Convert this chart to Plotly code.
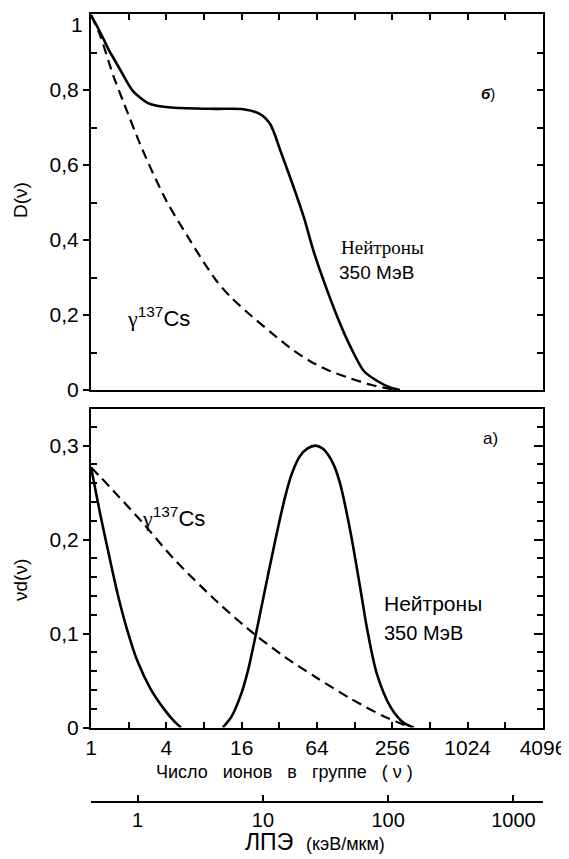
import math
import plotly.graph_objects as go

# ---------------- data ----------------
# x values stored as log2(nu); nu = number of ions in a group
top_neutron_log2nu = [0, 0.25, 0.49, 0.6, 0.8, 0.95, 1.11, 1.3, 1.5, 1.75, 2.2, 3.3, 4.04, 4.49,
                      4.76, 5.03, 5.38, 5.65, 5.91, 6.2, 6.54, 6.89, 7.25, 7.6, 7.96, 8.2]
top_neutron_D = [1.0, 0.953, 0.904, 0.885, 0.85, 0.823, 0.798, 0.78, 0.766, 0.758, 0.753, 0.75,
                 0.749, 0.736, 0.709, 0.638, 0.541, 0.461, 0.37, 0.285, 0.195, 0.115, 0.05,
                 0.024, 0.006, 0.0]

top_gamma_log2nu = [0, 0.23, 0.58, 0.85, 1.38, 2.0, 2.63, 3.0, 3.34, 3.69, 4.23, 4.76, 5.29,
                    5.83, 6.36, 6.89, 7.43, 7.87, 8.1]
top_gamma_D = [1.0, 0.949, 0.842, 0.771, 0.638, 0.505, 0.399, 0.34, 0.29, 0.25, 0.2, 0.155,
               0.112, 0.076, 0.05, 0.031, 0.014, 0.004, 0.0]

bot_neutron_low_log2nu = [0, 0.24, 0.48, 0.72, 0.96, 1.23, 1.57, 1.95, 2.2, 2.39]
bot_neutron_low_vd = [0.277, 0.228, 0.183, 0.14, 0.104, 0.071, 0.042, 0.019, 0.007, 0.0]

bot_neutron_peak_log2nu = [3.50, 3.73, 3.99, 4.17, 4.35, 4.57, 4.88, 5.15, 5.33, 5.55, 5.75,
                           5.95, 6.15, 6.30, 6.45, 6.61, 6.88, 7.15, 7.33, 7.59, 7.95, 8.30, 8.57]
bot_neutron_peak_vd = [0.0, 0.0115, 0.036, 0.061, 0.094, 0.137, 0.197, 0.245, 0.27, 0.289, 0.297,
                       0.3, 0.297, 0.29, 0.279, 0.26, 0.21, 0.148, 0.105, 0.057, 0.022, 0.005, 0.0]

bot_gamma_log2nu = [0, 0.5, 1.37, 2.21, 3.37, 4.35, 5.15, 5.99, 6.88, 7.77, 8.30, 8.48]
bot_gamma_vd = [0.277, 0.256, 0.218, 0.179, 0.133, 0.099, 0.075, 0.053, 0.031, 0.012, 0.003, 0.0]

nu_tick_vals = [1, 4, 16, 64, 256, 1024, 4096]
nu_tick_text = ["1", "4", "16", "64", "256", "1024", "4096"]
nu_minor_vals = [2, 8, 32, 128, 512, 2048]
nu_octave_vals = [2, 4, 8, 16, 32, 64, 128, 256, 512, 1024, 2048]

D_tick_vals = [0, 0.2, 0.4, 0.6, 0.8]
D_tick_text = ["0", "0,2", "0,4", "0,6", "0,8"]
D_top_label = "1"
D_minor_vals = [0.1, 0.3, 0.5, 0.7, 0.9]

vd_tick_vals = [0, 0.1, 0.2, 0.3]
vd_tick_text = ["0", "0,1", "0,2", "0,3"]
vd_minor_vals = [0.02, 0.04, 0.06, 0.08, 0.12, 0.14, 0.16, 0.18, 0.22, 0.24, 0.26, 0.28, 0.32]

let_tick_vals = [1, 10, 100, 1000]
let_tick_text = ["1", "10", "100", "1000"]
let_end_vals = [0.425, 1722]


def nu(vals):
    return [2 ** v for v in vals]


# ---------------- layout helpers ----------------
# the page body adds an 8px offset, so the figure is 8px smaller each way
OFF = 8
W, H = 569 - OFF, 859 - OFF
ML, MR, MT, MB = 83, 26, 6, 57
PW = W - ML - MR
PH = H - MT - MB


def px_x(px):
    return (px - OFF - ML) / PW


def px_y(py):
    return min(1.0, (H - MB - (py - OFF)) / PH)


FONT = "Liberation Sans"
BLACK = "black"
solid = dict(color=BLACK, width=2.6, shape="spline", smoothing=0.8)
dashed = dict(color=BLACK, width=2.2, dash="10px,6px", shape="spline", smoothing=0.8)

fig = go.Figure()
fig.add_trace(go.Scatter(x=nu(top_neutron_log2nu), y=top_neutron_D, mode="lines",
                         line=solid, xaxis="x", yaxis="y", showlegend=False))
fig.add_trace(go.Scatter(x=nu(top_gamma_log2nu), y=top_gamma_D, mode="lines",
                         line=dashed, xaxis="x", yaxis="y", showlegend=False))
fig.add_trace(go.Scatter(x=nu(bot_neutron_low_log2nu), y=bot_neutron_low_vd, mode="lines",
                         line=solid, xaxis="x2", yaxis="y2", showlegend=False))
fig.add_trace(go.Scatter(x=nu(bot_neutron_peak_log2nu), y=bot_neutron_peak_vd, mode="lines",
                         line=solid, xaxis="x2", yaxis="y2", showlegend=False))
fig.add_trace(go.Scatter(x=nu(bot_gamma_log2nu), y=bot_gamma_vd, mode="lines",
                         line=dashed, xaxis="x2", yaxis="y2", showlegend=False))
# empty traces so that the frame / secondary axes get drawn
for xa, ya in [("x3", "y"), ("x", "y3"), ("x4", "y2"), ("x2", "y4"), ("x5", "y2")]:
    fig.add_trace(go.Scatter(x=[], y=[], xaxis=xa, yaxis=ya, showlegend=False,
                             hoverinfo="skip"))

xr = [0, math.log10(4096)]
yr_top = [0, 1.003]
yr_bot = [0, 0.339]
top_dom = [px_y(390), px_y(14)]
bot_dom = [px_y(727.5), px_y(409)]
frame = dict(showline=True, linecolor=BLACK, linewidth=2, showgrid=False, zeroline=False,
             automargin=False)
tickfont = dict(family=FONT, size=21, color=BLACK)
tk = dict(tickwidth=1.5, tickcolor=BLACK)

fig.update_layout(
    width=W, height=H,
    margin=dict(l=ML, r=MR, t=MT, b=MB, autoexpand=False),
    paper_bgcolor="white", plot_bgcolor="white",
    showlegend=False,
    # --- top panel ---
    xaxis=dict(type="log", range=xr, domain=[0, 1], anchor="y", ticks="",
               showticklabels=False, **frame),
    yaxis=dict(range=yr_top, domain=top_dom, anchor="x",
               tickvals=D_tick_vals, ticktext=D_tick_text, ticks="outside",
               ticklen=6, tickfont=tickfont,
               minor=dict(tickvals=D_minor_vals, ticks="inside", ticklen=6, **tk),
               **tk, **frame),
    xaxis3=dict(type="log", range=xr, overlaying="x", side="top", anchor="y",
                tickvals=nu_octave_vals, ticks="inside", ticklen=6,
                showticklabels=False, **tk, **frame),
    yaxis3=dict(range=yr_top, overlaying="y", side="right", anchor="x",
                tickvals=D_minor_vals + D_tick_vals[1:], ticks="inside", ticklen=6,
                showticklabels=False, **tk, **frame),
    # --- bottom panel ---
    xaxis2=dict(type="log", range=xr, domain=[0, 1], anchor="y2",
                tickvals=nu_tick_vals, ticktext=nu_tick_text, ticks="inside",
                ticklen=6, tickfont=tickfont,
                minor=dict(tickvals=nu_minor_vals, ticks="inside", ticklen=6, **tk),
                **tk, **frame),
    yaxis2=dict(range=yr_bot, domain=bot_dom, anchor="x2",
                tickvals=vd_tick_vals, ticktext=vd_tick_text, ticks="outside",
                ticklen=6, tickfont=tickfont,
                minor=dict(tickvals=vd_minor_vals, ticks="inside", ticklen=6, **tk),
                **tk, **frame),
    xaxis4=dict(type="log", range=xr, overlaying="x2", side="top", anchor="y2",
                ticks="", showticklabels=False, **frame),
    yaxis4=dict(range=yr_bot, overlaying="y2", side="right", anchor="x2",
                tickvals=vd_tick_vals[1:], ticks="inside", ticklen=9,
                showticklabels=False,
                minor=dict(tickvals=vd_minor_vals, ticks="inside", ticklen=6, **tk),
                **tk, **frame),
    # --- LET axis ---
    xaxis5=dict(type="log", range=[-0.372, 3.236], overlaying="x2", anchor="free",
                position=0, side="bottom",
                tickvals=let_tick_vals, ticktext=let_tick_text, ticks="inside",
                ticklen=6, tickfont=dict(family=FONT, size=20, color=BLACK),
                minor=dict(tickvals=let_end_vals, ticks="inside", ticklen=6, **tk),
                **tk, **frame),
)


def add_text(text, px, py, size=16, family=FONT, angle=0, xanchor="center"):
    fig.add_annotation(text=text, x=px_x(px), y=px_y(py), xref="paper", yref="paper",
                       showarrow=False, xanchor=xanchor, yanchor="middle",
                       textangle=angle, font=dict(family=family, size=size, color=BLACK))


GAMMA = "<span style='font-family:Liberation Serif'>γ</span>"

# the top tick label of D(ν) sits just below the frame in the reference
fig.add_annotation(text=D_top_label, x=0, y=1.0, xref="paper", yref="y",
                   xanchor="right", yanchor="middle", xshift=-6, yshift=-9,
                   showarrow=False, font=tickfont)

add_text("D(ν)", 20, 200, size=19, angle=-90)
add_text("νd(ν)", 20, 580, size=19, angle=-90)
add_text("<i><b>б</b></i>)", 488, 93, size=15)
add_text("a)", 490, 438, size=17)
add_text("Нейтроны", 382, 247, size=19, family="Liberation Serif")
add_text("350 МэВ", 376, 273, size=19)
add_text(GAMMA + "<sup>137</sup>Cs", 158, 317, size=22)
add_text("Нейтроны", 433, 603, size=21)
add_text("350 МэВ", 423, 633, size=20)
add_text(GAMMA + "<sup>137</sup>Cs", 173, 517, size=22)
add_text("Число   ионов   в   группе   ( ν )", 284, 772, size=18)
add_text("ЛПЭ  <span style='font-size:18px'>(кэВ/мкм)</span>", 315, 842, size=23)

fig.write_html("out.html")
